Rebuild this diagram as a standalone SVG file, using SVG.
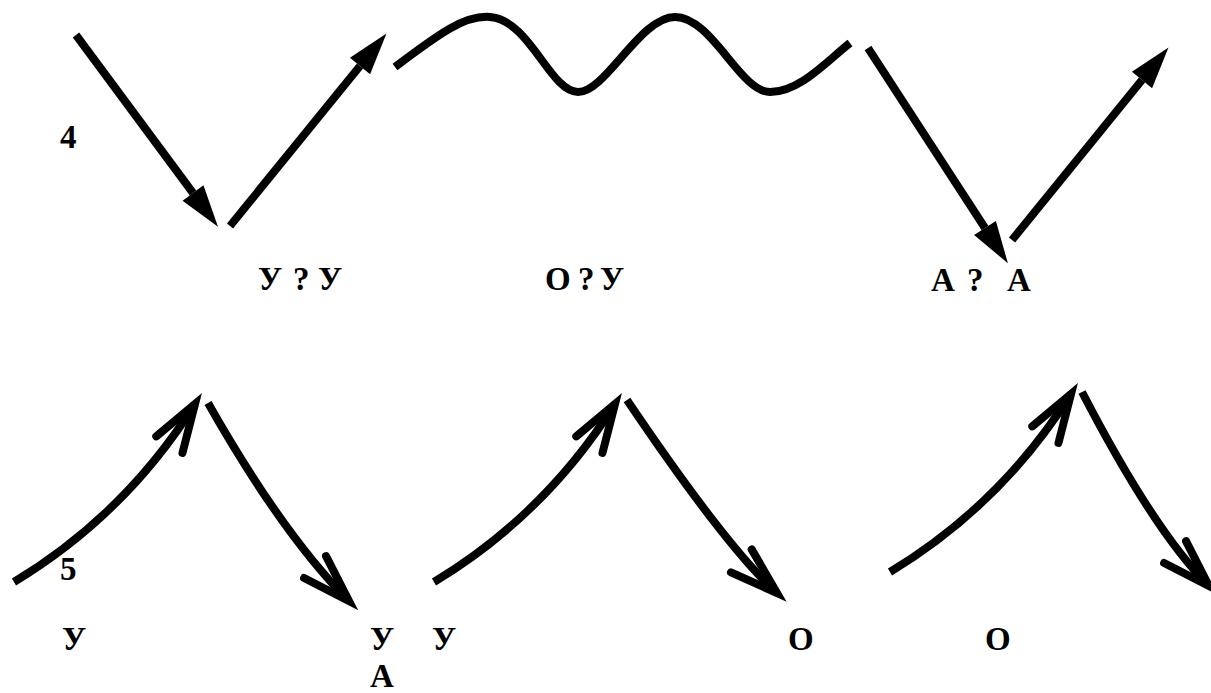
<svg xmlns="http://www.w3.org/2000/svg" width="1211" height="693" viewBox="0 0 1211 693">
<style>
.ln{fill:none;stroke:#000;stroke-width:8;stroke-linecap:butt}
</style>
<defs>
<marker id="tri" markerUnits="userSpaceOnUse" orient="auto" refX="0" refY="0" markerWidth="60" markerHeight="40" overflow="visible">
<path d="M0,-13 L42,0 L0,13 Z" fill="#000"/>
</marker>
<marker id="chev" markerUnits="userSpaceOnUse" orient="auto" refX="0" refY="0" markerWidth="80" markerHeight="80" overflow="visible">
<path d="M-48,-15.5 L0,0 L-48,15.5" fill="none" stroke="#000" stroke-width="8" stroke-linecap="round" stroke-linejoin="miter" stroke-miterlimit="10"/>
</marker>
</defs>
<rect width="1211" height="693" fill="#fff"/>
<g id="connectors">
<path class="ln" d="M76,35 L193,193" marker-end="url(#tri)"/>
<path class="ln" d="M230,226 L360,66" marker-end="url(#tri)"/>
<path class="ln" d="M395,67 C440,33 465,15 490,17 C530,20 550,92 578,92 C606,92 640,17 675,17 C712,17 740,92 770,92 C800,92 828,60 850,43"/>
<path class="ln" d="M868,48 L985,228" marker-end="url(#tri)"/>
<path class="ln" d="M1012,240 L1142,80" marker-end="url(#tri)"/>
<path class="ln" d="M14,582 Q125,515 195,404" marker-end="url(#chev)"/>
<path class="ln" d="M208,403 Q283,535 349,601" marker-end="url(#chev)"/>
<path class="ln" d="M434,582 Q545,515 615,404" marker-end="url(#chev)"/>
<path class="ln" d="M627,400 Q727,548 777,593" marker-end="url(#chev)"/>
<path class="ln" d="M890,572 Q1001,505 1071,394" marker-end="url(#chev)"/>
<path class="ln" d="M1082,392 Q1154,531 1209,586" marker-end="url(#chev)"/>
</g>
<g font-family="Liberation Serif, Times New Roman, serif" font-weight="bold" font-size="33" fill="#000">
<g id="label-4"><text x="60" y="148">4</text></g>
<g id="label-uu"><text y="290"><tspan x="258">У</tspan><tspan x="293">?</tspan><tspan x="318">У</tspan></text></g>
<g id="label-ou"><text y="290"><tspan x="545">О</tspan><tspan x="578">?</tspan><tspan x="600">У</tspan></text></g>
<g id="label-aa"><text y="291"><tspan x="931">А</tspan><tspan x="967">?</tspan><tspan x="1007">А</tspan></text></g>
<g id="label-5"><text x="60" y="580">5</text></g>
<g id="label-u1"><text x="62" y="650">У</text></g>
<g id="label-u2"><text x="370" y="650">У</text></g>
<g id="label-a"><text x="370" y="687">А</text></g>
<g id="label-u3"><text x="432" y="650">У</text></g>
<g id="label-o1"><text x="788" y="650">О</text></g>
<g id="label-o2"><text x="985" y="650">О</text></g>
</g>
</svg>
